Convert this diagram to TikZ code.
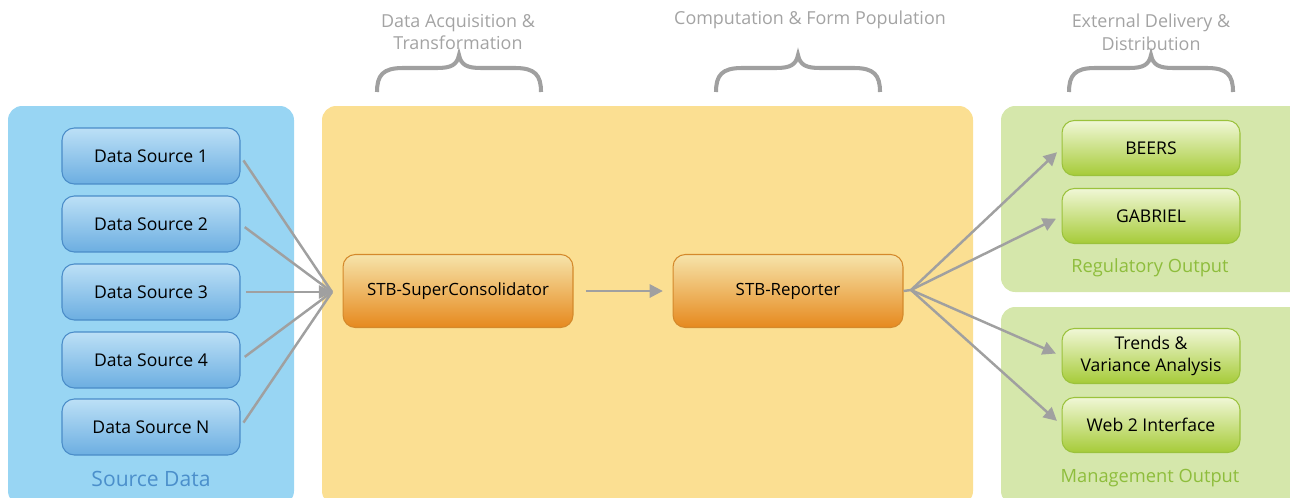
\documentclass[tikz,border=0pt]{standalone}
\usepackage{fontspec}
\setmainfont{Open Sans}
\usetikzlibrary{arrows.meta, positioning}
\definecolor{cpanelblue}{HTML}{98D5F3}
\definecolor{cpanelyellow}{HTML}{FBDF92}
\definecolor{cpanelgreen}{HTML}{D5E7AB}
\definecolor{cblueline}{HTML}{4A8CC8}
\definecolor{cbluetop}{HTML}{BCE0F6}
\definecolor{cbluebot}{HTML}{6CAEE1}
\definecolor{corangeline}{HTML}{D4892B}
\definecolor{corangetop}{HTML}{F6E4AA}
\definecolor{corangemid}{HTML}{F1C64A}
\definecolor{corangebot}{HTML}{E6891E}
\definecolor{cgreenline}{HTML}{9BC23C}
\definecolor{cgreentop}{HTML}{F0F7D6}
\definecolor{cgreenbot}{HTML}{A6CB38}
\definecolor{cbluetext}{HTML}{4B8FCB}
\definecolor{cgreentext}{HTML}{8EBD3C}
\definecolor{cgrey}{HTML}{A0A0A0}
\definecolor{cheadgrey}{HTML}{A3A3A3}
\tikzset{
  every picture/.style={font=\fontsize{10}{12.5}\selectfont},
  panel/.style={fill=#1, rounded corners=8pt},
  srcbox/.style={draw=cblueline, line width=0.6pt, rounded corners=7pt, top color=cbluetop, bottom color=cbluebot, minimum width=3.56cm, minimum height=1.12cm, align=center},
  toolbox/.style={draw=corangeline, line width=0.6pt, rounded corners=7pt, top color=corangetop, middle color=corangemid, bottom color=corangebot, minimum width=4.6cm, minimum height=1.46cm, align=center, font=\fontsize{9.6}{12}\selectfont},
  outbox/.style={draw=cgreenline, line width=0.6pt, rounded corners=7pt, top color=cgreentop, bottom color=cgreenbot, minimum width=3.56cm, minimum height=1.1cm, align=center, inner sep=1pt},
  link/.style={draw=cgrey, line width=1.4pt},
  arrow/.style={link, -{Triangle[length=7.5pt, width=7.5pt]}},
  heading/.style={text=cheadgrey, align=center, font=\fontsize{10.2}{13}\selectfont},
  paneltitle/.style={font=\fontsize{10.4}{13}\selectfont},
  curly/.pic={\draw[cgrey, line width=2.3pt] (-82,37) .. controls (-82,20) and (-76,13) .. (-56,13) -- (-22,13) .. controls (-8,13) and (-2,10) .. (0,0) .. controls (2,10) and (8,13) .. (22,13) -- (56,13) .. controls (76,13) and (82,20) .. (82,37);},
}
\begin{document}
\begin{tikzpicture}[x=0.02cm, y=-0.02cm]
  \useasboundingbox (0,0) rectangle (1290,497);
  \clip (0,0) rectangle (1290,497);
  \fill[panel=cpanelblue] (8,106) rectangle (294,505);
  \fill[panel=cpanelyellow] (322,106) rectangle (973,505);
  \fill[panel=cpanelgreen] (1001,106) rectangle (1305,292);
  \fill[panel=cpanelgreen] (1001,307) rectangle (1305,505);

  \node[heading] (acqhead) at (458,32) {Data Acquisition \&\\Transformation};
  \node[heading] (comphead) at (810,20) {Computation \& Form Population};
  \node[heading] (delhead) at (1151,32) {External Delivery \&\\Distribution};
  \pic at (459,55) {curly};
  \pic at (798,55) {curly};
  \pic at (1151,55) {curly};

  \node[srcbox] (ds1) at (151,156) {Data Source 1};
  \node[srcbox] (ds2) at (151,224) {Data Source 2};
  \node[srcbox] (ds3) at (151,292) {Data Source 3};
  \node[srcbox] (ds4) at (151,360) {Data Source 4};
  \node[srcbox] (dsn) at (151,427) {Data Source N};
  \node[paneltitle, text=cbluetext, font=\fontsize{12}{14}\selectfont] (srclabel) at (151,479) {Source Data};

  \node[toolbox] (consol) at (458,291) {STB-SuperConsolidator};
  \node[toolbox] (reporter) at (788,291) {STB-Reporter};

  \node[outbox] (beers) at (1151,148) {BEERS};
  \node[outbox] (gabriel) at (1151,216) {GABRIEL};
  \node[paneltitle, text=cgreentext] (reglabel) at (1150,268) {Regulatory Output};
  \node[outbox] (trends) at (1151,356) {Trends \&\\Variance Analysis};
  \node[outbox] (web) at (1151,425) {Web 2 Interface};
  \node[paneltitle, text=cgreentext] (mgmtlabel) at (1150,478) {Management Output};

  \coordinate (merge) at (332,292);
  \coordinate (split) at (911,290);
  \draw[link, shorten <=3pt] (ds1.east) -- (merge);
  \draw[link, shorten <=3pt] (ds2.east) -- (merge);
  \draw[link, shorten <=3pt] (ds4.east) -- (merge);
  \draw[link, shorten <=3pt] (dsn.east) -- (merge);
  \draw[arrow, shorten <=3pt] (ds3.east) -- (merge);
  \draw[arrow, shorten <=7pt, shorten >=5.5pt] (consol) -- (reporter);
  \draw[link] (reporter.east) -- (split);
  \draw[arrow, shorten >=3.5pt] (split) -- (beers.west);
  \draw[arrow, shorten >=3.5pt] (split) -- (gabriel.west);
  \draw[arrow, shorten >=3.5pt] (split) -- (trends.west);
  \draw[arrow, shorten >=3.5pt] (split) -- (web.west);
\end{tikzpicture}
\end{document}
